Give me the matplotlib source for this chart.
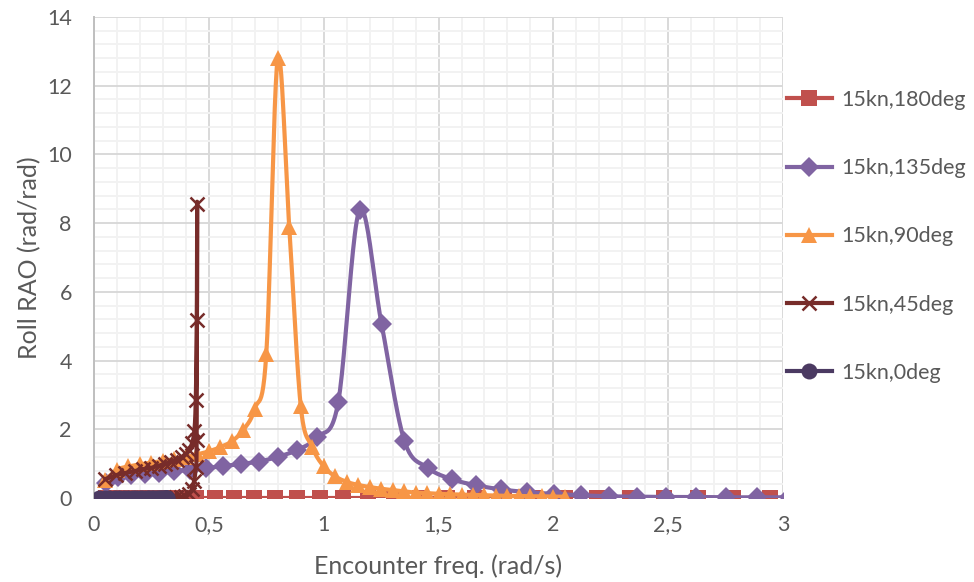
import numpy as np
import matplotlib.pyplot as plt
from matplotlib.ticker import MultipleLocator, FuncFormatter

# encounter frequency (rad/s) and roll RAO (rad/rad) for each heading at 15 kn
freq_180 = [0.052, 0.108, 0.168, 0.231, 0.299, 0.371, 0.446, 0.526, 0.609, 0.697,
            0.788, 0.883, 0.983, 1.086, 1.193, 1.304, 1.419, 1.537, 1.660, 1.787,
            1.918, 2.052, 2.191, 2.333, 2.480, 2.630, 2.784, 2.943, 3.105]
rao_180 = [0.0, 0.0, 0.0, 0.0, 0.0, 0.0, 0.0, 0.0, 0.0, 0.0,
           0.0, 0.0, 0.0, 0.0, 0.0, 0.0, 0.0, 0.0, 0.0, 0.0,
           0.0, 0.0, 0.0, 0.0, 0.0, 0.0, 0.0, 0.0, 0.0]

freq_135 = [0.051, 0.106, 0.163, 0.222, 0.285, 0.350, 0.418, 0.489, 0.563, 0.639,
            0.718, 0.800, 0.885, 0.973, 1.063, 1.156, 1.252, 1.351, 1.453, 1.557,
            1.664, 1.774, 1.887, 2.002, 2.120, 2.241, 2.365, 2.492, 2.621, 2.753,
            2.888, 3.026]
rao_135 = [0.45, 0.60, 0.66, 0.70, 0.74, 0.78, 0.82, 0.87, 0.93, 0.99,
           1.06, 1.20, 1.40, 1.78, 2.78, 8.38, 5.06, 1.67, 0.88, 0.55,
           0.37, 0.25, 0.17, 0.12, 0.08, 0.05, 0.04, 0.03, 0.03, 0.02,
           0.02, 0.02]

freq_90 = [0.05, 0.10, 0.15, 0.20, 0.25, 0.30, 0.35, 0.40, 0.45, 0.50,
           0.55, 0.60, 0.65, 0.70, 0.75, 0.80, 0.85, 0.90, 0.95, 1.00,
           1.05, 1.10, 1.15, 1.20, 1.25, 1.30, 1.35, 1.40, 1.45, 1.50,
           1.55, 1.60, 1.65, 1.70, 1.75, 1.80, 1.85, 1.90, 1.95, 2.00, 2.05]
rao_90 = [0.52, 0.82, 0.92, 0.98, 1.03, 1.08, 1.13, 1.20, 1.27, 1.36,
          1.48, 1.65, 1.98, 2.60, 4.18, 12.80, 7.90, 2.68, 1.49, 0.92,
          0.63, 0.47, 0.38, 0.32, 0.27, 0.23, 0.19, 0.16, 0.14, 0.12,
          0.11, 0.10, 0.09, 0.08, 0.07, 0.06, 0.06, 0.05, 0.05, 0.04, 0.04]

freq_45 = [0.049, 0.094, 0.137, 0.178, 0.215, 0.250, 0.282, 0.311, 0.337, 0.361,
           0.381, 0.399, 0.415, 0.427, 0.437, 0.443, 0.448, 0.449, 0.447, 0.443,
           0.436, 0.426, 0.413, 0.398, 0.380, 0.359, 0.335, 0.308, 0.279, 0.247,
           0.212, 0.174, 0.134, 0.090, 0.044]
rao_45 = [0.55, 0.66, 0.73, 0.78, 0.84, 0.88, 0.94, 1.00, 1.06, 1.12,
          1.18, 1.27, 1.40, 1.60, 1.95, 2.85, 5.18, 8.55, 1.70, 0.90,
          0.50, 0.25, 0.12, 0.06, 0.03, 0.02, 0.01, 0.01, 0.0, 0.0,
          0.0, 0.0, 0.0, 0.0, 0.0]

freq_0 = [0.048, 0.092, 0.132, 0.169, 0.201, 0.229, 0.254, 0.274, 0.291, 0.303,
          0.312, 0.317, 0.318, 0.314, 0.307, 0.296, 0.281, 0.263, 0.240, 0.213,
          0.182, 0.148, 0.109, 0.067, 0.020]
rao_0 = [0.0, 0.0, 0.0, 0.0, 0.0, 0.0, 0.0, 0.0, 0.0, 0.0,
         0.0, 0.0, 0.0, 0.0, 0.0, 0.0, 0.0, 0.0, 0.0, 0.0,
         0.0, 0.0, 0.0, 0.0, 0.0]

X_MAX = 3
Y_MAX = 14
TEXT = '#595959'

plt.rcParams['font.family'] = ['Lato', 'DejaVu Sans']

fig = plt.figure(figsize=(9.74, 5.82), dpi=100)
ax = fig.add_axes([0.0965, 0.1443, 0.7075, 0.8265])

# pixels per data unit, so the smoothing works in screen space like a spreadsheet chart
ax_w = 0.7075 * 974
ax_h = 0.8265 * 582
sx = ax_w / X_MAX
sy = ax_h / Y_MAX


def smooth(x, y, n=24):
    """ Bezier smoothing through every point (Catmull-Rom control points). """
    p = np.column_stack([np.asarray(x) * sx, np.asarray(y) * sy])
    p = np.vstack([p[0], p, p[-1]])
    t = np.linspace(0, 1, n)[:, None]
    out = []
    for i in range(1, len(p) - 2):
        p0, p1, p2, p3 = p[i - 1], p[i], p[i + 1], p[i + 2]
        c1 = p1 + (p2 - p0) / 6
        c2 = p2 - (p3 - p1) / 6
        out.append((1 - t) ** 3 * p1 + 3 * (1 - t) ** 2 * t * c1
                   + 3 * (1 - t) * t ** 2 * c2 + t ** 3 * p2)
    pts = np.vstack(out)
    return pts[:, 0] / sx, pts[:, 1] / sy


series = [
    (freq_180, rao_180, '15kn,180deg', '#C0504D', 's', 11, 0),
    (freq_135, rao_135, '15kn,135deg', '#8064A2', 'D', 10, 0),
    (freq_90, rao_90, '15kn,90deg', '#F79646', '^', 12, 0),
    (freq_45, rao_45, '15kn,45deg', '#772C2A', 'x', 10, 1.8),
    (freq_0, rao_0, '15kn,0deg', '#4B3A62', 'o', 11.5, 0),
]

for k, (fx, fy, name, color, mk, ms, mew) in enumerate(series):
    lx, ly = smooth(fx, fy)
    ax.plot(lx, ly, color=color, lw=3, zorder=3 + k, solid_capstyle='round')
    ax.plot(fx, fy, linestyle='none', marker=mk, ms=ms, color=color,
            markeredgewidth=mew, zorder=3 + k)
    # legend entry: line with marker
    ax.plot([], [], color=color, lw=3, marker=mk, ms=ms,
            markeredgewidth=mew, label=name)

ax.set_xlim(0, X_MAX)
ax.set_ylim(0, Y_MAX)

ax.xaxis.set_major_locator(MultipleLocator(0.5))
ax.xaxis.set_minor_locator(MultipleLocator(0.1))
ax.yaxis.set_major_locator(MultipleLocator(2))
ax.yaxis.set_minor_locator(MultipleLocator(0.4))
ax.xaxis.set_major_formatter(FuncFormatter(lambda v, p: f'{v:g}'.replace('.', ',')))

ax.grid(which='major', color='#D9D9D9', lw=1.4, zorder=0)
ax.grid(which='minor', color='#F2F2F2', lw=1.4, zorder=0)
ax.set_axisbelow(True)

for side in ['top', 'right', 'bottom']:
    ax.spines[side].set_visible(False)
ax.spines['left'].set_color('#BFBFBF')
ax.spines['left'].set_linewidth(1.4)

ax.tick_params(which='both', length=0, colors=TEXT, labelsize=15.5)
ax.tick_params(axis='x', pad=12)
ax.tick_params(axis='y', pad=16)

ax.set_xlabel('Encounter freq. (rad/s)', fontsize=18, color=TEXT, labelpad=14)
ax.set_ylabel('Roll RAO (rad/rad)', fontsize=18, color=TEXT, labelpad=4)

ax.legend(loc='center left', bbox_to_anchor=(0.993, 0.544), frameon=False,
          fontsize=15.5, labelcolor=TEXT, handlelength=2.1, handletextpad=0.45,
          labelspacing=2.24, borderaxespad=0)

fig.savefig('out.png', dpi=100)
